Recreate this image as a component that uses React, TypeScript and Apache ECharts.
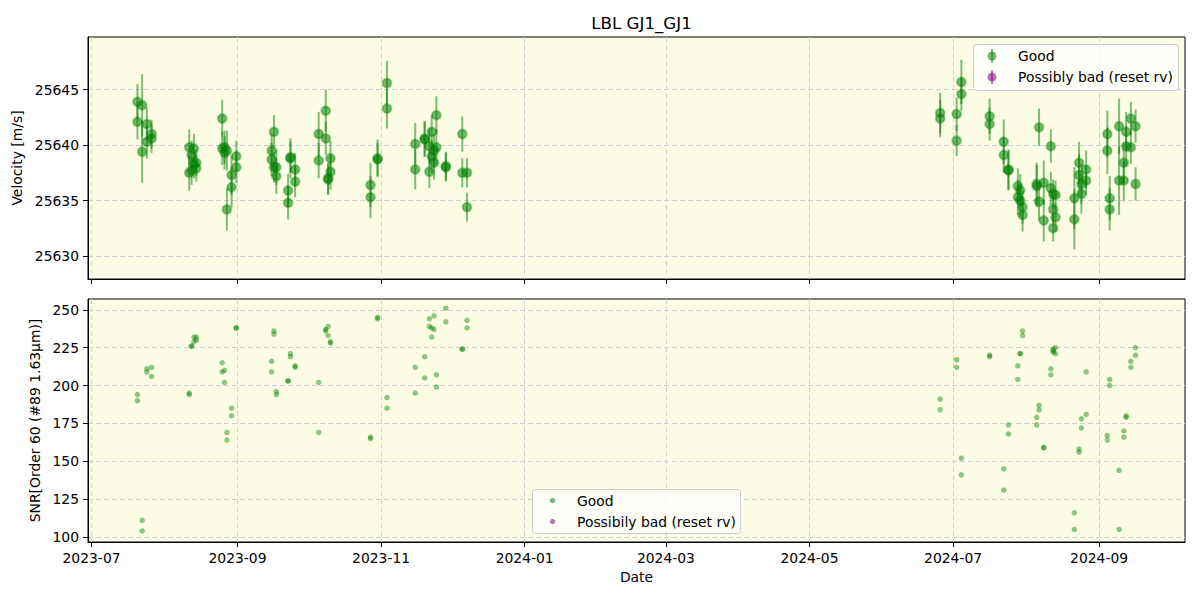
import React, { useEffect, useRef } from "react";
import * as echarts from "echarts";

// ---- data ----
const obsDates: string[] = [
  "2023-07-20","2023-07-20","2023-07-22","2023-07-22","2023-07-24","2023-07-24","2023-07-26","2023-07-26",
  "2023-08-11","2023-08-11","2023-08-12","2023-08-12","2023-08-13","2023-08-13","2023-08-14","2023-08-14",
  "2023-08-25","2023-08-25","2023-08-26","2023-08-26","2023-08-27","2023-08-27","2023-08-29","2023-08-29","2023-08-31","2023-08-31",
  "2023-09-15","2023-09-15","2023-09-16","2023-09-16","2023-09-17","2023-09-17","2023-09-22","2023-09-22","2023-09-23","2023-09-23","2023-09-25","2023-09-25",
  "2023-10-05","2023-10-05","2023-10-08","2023-10-08","2023-10-09","2023-10-09","2023-10-10","2023-10-10",
  "2023-10-27","2023-10-27","2023-10-30","2023-10-30",
  "2023-11-03","2023-11-03",
  "2023-11-15","2023-11-15","2023-11-19","2023-11-19","2023-11-21","2023-11-21","2023-11-22","2023-11-22","2023-11-23","2023-11-23","2023-11-24","2023-11-24","2023-11-28","2023-11-28","2023-12-05","2023-12-05","2023-12-07","2023-12-07",
  "2024-06-25","2024-06-25","2024-07-02","2024-07-02","2024-07-04","2024-07-04","2024-07-16","2024-07-16","2024-07-22","2024-07-22","2024-07-24","2024-07-24",
  "2024-07-28","2024-07-28","2024-07-29","2024-07-29","2024-07-30","2024-07-30",
  "2024-08-05","2024-08-05","2024-08-06","2024-08-06","2024-08-08","2024-08-08",
  "2024-08-11","2024-08-11","2024-08-12","2024-08-12","2024-08-12","2024-08-13","2024-08-13",
  "2024-08-21","2024-08-21","2024-08-23","2024-08-23","2024-08-24","2024-08-24","2024-08-26","2024-08-26",
  "2024-09-04","2024-09-04","2024-09-05","2024-09-05","2024-09-09","2024-09-09","2024-09-11","2024-09-11","2024-09-12","2024-09-12","2024-09-14","2024-09-14","2024-09-16","2024-09-16",
];

const rvValues: number[] = [
  25643.9,25642.1,25643.6,25639.4,25641.9,25640.3,25641.0,25640.6,
  25639.8,25637.5,25639.1,25637.7,25639.7,25638.3,25638.4,25637.9,
  25642.4,25639.7,25639.3,25639.8,25634.2,25639.5,25637.3,25636.2,25639.0,25638.0,
  25639.5,25638.7,25641.2,25638.0,25638.0,25637.2,25635.9,25634.8,25638.8,25638.9,25637.8,25636.7,
  25641.0,25638.6,25643.1,25640.6,25636.9,25637.0,25638.8,25637.6,
  25636.4,25635.3,25638.8,25638.7,
  25645.6,25643.3,
  25640.1,25637.8,25640.5,25640.6,25639.9,25637.6,25641.2,25639.0,25639.5,25638.4,25642.7,25639.8,25638.0,25638.1,25641.0,25637.5,25637.5,25634.4,
  25642.9,25642.4,25642.8,25640.4,25645.7,25644.6,25642.6,25641.9,25640.3,25639.1,25637.7,25637.8,
  25636.3,25635.3,25635.0,25635.9,25634.4,25633.7,
  25636.3,25636.5,25641.6,25634.9,25636.6,25633.2,
  25639.9,25636.1,25635.6,25632.5,25634.2,25633.5,25635.5,
  25635.2,25633.3,25638.4,25637.3,25636.5,25635.6,25637.8,25636.8,
  25641.0,25639.5,25635.2,25634.2,25641.7,25636.8,25638.4,25636.8,25641.2,25639.9,25642.4,25639.8,25641.7,25636.5,
];

const rvErrors: number[] = [
  1.6,1.6,2.8,2.8,1.5,1.5,1.3,1.3,
  1.6,1.6,1.3,1.3,1.3,1.3,1.2,1.2,
  1.7,1.5,1.5,1.5,1.9,1.8,1.8,1.8,1.4,1.4,
  1.5,1.5,1.5,1.4,1.6,1.6,1.5,1.5,1.8,1.4,1.5,1.4,
  2.0,1.6,1.9,1.5,1.4,1.4,1.6,1.6,
  2.0,1.9,1.7,1.5,
  2.0,1.8,
  1.9,1.8,1.6,1.6,1.6,1.5,1.5,1.5,1.5,1.5,1.7,1.6,1.3,1.3,1.6,1.3,1.3,1.3,
  1.8,1.7,1.5,1.4,2.0,1.5,1.6,1.5,2.0,1.6,1.8,1.8,
  1.6,1.6,1.5,1.5,1.5,1.5,
  1.9,1.9,1.7,1.7,2.0,1.9,
  1.5,1.5,1.3,1.2,1.3,1.3,1.3,
  2.8,2.7,1.9,1.9,1.8,1.8,1.7,1.3,
  2.1,2.1,2.0,1.9,2.5,3.1,1.8,1.8,1.8,1.8,1.5,1.5,1.5,1.5,
];

const snrValues: number[] = [
  194,190,111,104,211,209,212,206,
  195,194,226,226,229,232,232,230,
  215,209,210,202,164,169,185,180,238,238,
  216,209,236,234,196,194,203,203,221,219,213,212,
  202,169,237,236,239,233,229,228,
  166,165,245,244,
  192,185,
  212,195,219,205,244,239,238,232,246,237,207,199,251,242,224,224,243,238,
  191,184,217,212,152,141,220,219,145,131,174,168,
  213,204,221,221,236,233,
  179,174,187,184,159,159,
  211,207,224,223,222,225,221,
  116,105,158,156,178,172,209,181,
  167,164,204,200,144,105,170,166,180,179,216,212,225,220,
];

// "Possibly bad (reset rv)" points: none in this dataset
const badDates: string[] = [];
const badRv: number[] = [];
const badSnr: number[] = [];

const xTickLabels = ["2023-07", "2023-09", "2023-11", "2024-01", "2024-03", "2024-05", "2024-07", "2024-09"];
const rvTicks = [25630, 25635, 25640, 25645];
const snrTicks = [100, 125, 150, 175, 200, 225, 250];

const xMinDate = "2023-06-29T12:00:00";
const xMaxDate = "2024-10-07T12:00:00";
const rvMin = 25627.92;
const rvMax = 25649.75;
const snrMin = 96.7;
const snrMax = 257.1;

const TITLE = "LBL GJ1_GJ1";
const FONT = "DejaVu Sans";
const GREEN = "rgba(0,128,0,0.5)";
const PURPLE = "rgba(128,0,128,0.5)";
const BG = "#fdfce4";
const GRIDLINE = "#cfcfd9";

const ts = (d: string) => new Date(d + "T12:00:00").getTime();
const monthTs = (m: string) => new Date(m + "-01T00:00:00").getTime();
const fmtMonth = (v: number) => {
  const d = new Date(v);
  return `${d.getFullYear()}-${String(d.getMonth() + 1).padStart(2, "0")}`;
};

export default function App() {
  const ref = useRef<HTMLDivElement>(null);

  useEffect(() => {
    if (!ref.current) return;
    const chart = echarts.init(ref.current, null, { renderer: "svg" });

    const xTicks = xTickLabels.map(monthTs);
    const rvPoints = obsDates.map((d, i) => [ts(d), rvValues[i]]);
    const errPoints = obsDates.map((d, i) => [ts(d), rvValues[i] - rvErrors[i], rvValues[i] + rvErrors[i]]);
    const snrPoints = obsDates.map((d, i) => [ts(d), snrValues[i]]);
    const badRvPoints = badDates.map((d, i) => [ts(d), badRv[i]]);
    const badSnrPoints = badDates.map((d, i) => [ts(d), badSnr[i]]);

    const labelStyle = { color: "#000", fontFamily: FONT, fontSize: 13.9 };
    const splitLine = { show: true, lineStyle: { color: GRIDLINE, type: [5, 3] as any, width: 1 } };
    const tick = { show: true, inside: false, length: 5, lineStyle: { color: "#000", width: 1 } };
    const plain = (v: number) => String(v);

    const xAxisBase = (gridIndex: number, showLabels: boolean) => ({
      type: "value",
      gridIndex,
      scale: true,
      min: new Date(xMinDate).getTime(),
      max: new Date(xMaxDate).getTime(),
      axisLine: { show: true, onZero: false, lineStyle: { color: "#000", width: 1 } },
      axisTick: { ...tick, customValues: xTicks },
      axisLabel: {
        show: showLabels,
        customValues: xTicks,
        formatter: (v: number) => fmtMonth(v),
        margin: 9,
        ...labelStyle,
      },
      splitLine: { ...splitLine },
      name: showLabels ? "Date" : "",
      nameLocation: "middle",
      nameGap: 28,
      nameTextStyle: { ...labelStyle },
    });

    const option: any = {
      animation: false,
      backgroundColor: "#fff",
      title: {
        text: TITLE,
        left: 636.5,
        top: 9,
        textAlign: "center",
        textStyle: { color: "#000", fontFamily: FONT, fontSize: 16.7, fontWeight: "normal" },
      },
      grid: [
        { left: 88, right: 15, top: 37, height: 242, show: true, backgroundColor: BG, borderColor: "#000", borderWidth: 1, containLabel: false },
        { left: 88, right: 15, top: 299, height: 243, show: true, backgroundColor: BG, borderColor: "#000", borderWidth: 1, containLabel: false },
      ],
      xAxis: [xAxisBase(0, false), xAxisBase(1, true)],
      yAxis: [
        {
          type: "value",
          gridIndex: 0,
          scale: true,
          min: rvMin,
          max: rvMax,
          axisLine: { show: true, lineStyle: { color: "#000", width: 1 } },
          axisTick: { ...tick, customValues: rvTicks },
          axisLabel: { customValues: rvTicks, margin: 9, formatter: plain, ...labelStyle },
          splitLine: { ...splitLine },
          name: "Velocity [m/s]",
          nameLocation: "middle",
          nameGap: 52,
          nameTextStyle: { ...labelStyle },
        },
        {
          type: "value",
          gridIndex: 1,
          min: snrMin,
          max: snrMax,
          axisLine: { show: true, lineStyle: { color: "#000", width: 1 } },
          axisTick: { ...tick, customValues: snrTicks },
          axisLabel: { customValues: snrTicks, margin: 9, formatter: plain, ...labelStyle },
          splitLine: { ...splitLine },
          name: "SNR[Order 60 (#89 1.63μm)]",
          nameLocation: "middle",
          nameGap: 45,
          nameTextStyle: { ...labelStyle },
        },
      ],
      series: [
        {
          type: "custom",
          name: "Good error",
          xAxisIndex: 0,
          yAxisIndex: 0,
          z: 2,
          clip: true,
          data: errPoints,
          renderItem: (_params: any, api: any) => {
            const p1 = api.coord([api.value(0), api.value(1)]);
            const p2 = api.coord([api.value(0), api.value(2)]);
            return {
              type: "line",
              shape: { x1: p1[0], y1: p1[1], x2: p2[0], y2: p2[1] },
              style: { stroke: GREEN, lineWidth: 2 },
            };
          },
        },
        {
          type: "scatter",
          name: "Good",
          xAxisIndex: 0,
          yAxisIndex: 0,
          z: 3,
          symbol: "circle",
          symbolSize: 9,
          data: rvPoints,
          itemStyle: { color: "rgba(0,128,0,0.55)", borderColor: "rgba(0,128,0,0.3)", borderWidth: 2, opacity: 1 },
        },
        {
          type: "scatter",
          name: "Possibly bad (reset rv)",
          xAxisIndex: 0,
          yAxisIndex: 0,
          z: 3,
          symbolSize: 9,
          data: badRvPoints,
          itemStyle: { color: PURPLE },
        },
        {
          type: "scatter",
          name: "Good ",
          xAxisIndex: 1,
          yAxisIndex: 1,
          z: 3,
          symbol: "circle",
          symbolSize: 5.5,
          data: snrPoints,
          itemStyle: { color: "rgba(0,128,0,0.55)" },
        },
        {
          type: "scatter",
          name: "Possibily bad (reset rv)",
          xAxisIndex: 1,
          yAxisIndex: 1,
          z: 3,
          symbolSize: 5.5,
          data: badSnrPoints,
          itemStyle: { color: PURPLE },
        },
      ],
      graphic: [
        // top legend
        {
          type: "rect",
          z: 100,
          shape: { x: 973.5, y: 44.5, width: 205, height: 46, r: 3 },
          style: { fill: "rgba(255,255,255,0.8)", stroke: "#cccccc", lineWidth: 1 },
        },
        { type: "line", z: 101, shape: { x1: 992, y1: 49, x2: 992, y2: 63 }, style: { stroke: GREEN, lineWidth: 2 } },
        { type: "circle", z: 101, shape: { cx: 992, cy: 56, r: 4.5 }, style: { fill: "rgba(0,128,0,0.55)" } },
        { type: "line", z: 101, shape: { x1: 992, y1: 70, x2: 992, y2: 84 }, style: { stroke: PURPLE, lineWidth: 2 } },
        { type: "circle", z: 101, shape: { cx: 992, cy: 77, r: 4.5 }, style: { fill: "rgba(128,0,128,0.55)" } },
        { type: "text", z: 101, x: 1018, y: 56, style: { text: "Good", fill: "#000", font: `13.9px '${FONT}'`, verticalAlign: "middle" } },
        { type: "text", z: 101, x: 1018, y: 77, style: { text: "Possibly bad (reset rv)", fill: "#000", font: `13.9px '${FONT}'`, verticalAlign: "middle" } },
        // bottom legend
        {
          type: "rect",
          z: 100,
          shape: { x: 532.5, y: 489.5, width: 208, height: 44, r: 3 },
          style: { fill: "rgba(255,255,255,0.8)", stroke: "#cccccc", lineWidth: 1 },
        },
        { type: "circle", z: 101, shape: { cx: 552.5, cy: 500.5, r: 2.7 }, style: { fill: "rgba(0,128,0,0.55)" } },
        { type: "circle", z: 101, shape: { cx: 552.5, cy: 521.5, r: 2.7 }, style: { fill: "rgba(128,0,128,0.55)" } },
        { type: "text", z: 101, x: 577, y: 500.5, style: { text: "Good", fill: "#000", font: `13.9px '${FONT}'`, verticalAlign: "middle" } },
        { type: "text", z: 101, x: 577, y: 521.5, style: { text: "Possibily bad (reset rv)", fill: "#000", font: `13.9px '${FONT}'`, verticalAlign: "middle" } },
      ],
    };

    chart.setOption(option);
    return () => chart.dispose();
  }, []);

  return (
    <div
      ref={ref}
      style={{ position: "fixed", left: 0, top: 0, width: 1200, height: 600, background: "#fff" }}
    />
  );
}
